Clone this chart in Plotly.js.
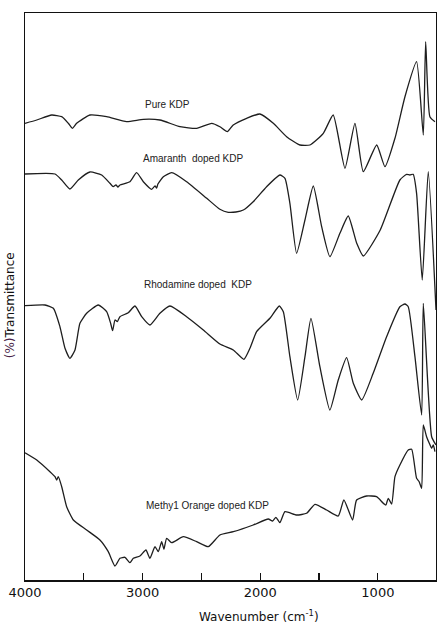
<!DOCTYPE html>
<html>
<head>
<meta charset="utf-8">
<script src="https://cdn.plot.ly/plotly-3.0.1.min.js"></script>
<style>html,body{margin:0;padding:0;background:#fff;}#chart{width:437px;height:627px;}</style>
</head>
<body>
<div id="chart"></div>
<script>
// Wavenumbers (cm^-1) and offset transmittance (arbitrary units, curves stacked)
const pureWn = [4000,3900,3773,3688,3632,3598,3561,3448,3306,3136,2994,2853,2683,2541,2413,2343,2280,2230,2116,2003,1889,1776,1663,1578,1464,1380,1280,1195,1124,1010,940,855,770,671,614,594,558,515];
const pureT  = [456.7,460,465,463.3,456.7,451.7,456.7,465,463.3,458.3,460.7,460,453.3,451.7,456.7,453.3,448.3,455,461.7,466,456.7,443.3,435,435,446.7,465,411.7,456.7,408.3,435,413.3,441.7,483.3,518.3,445,538.3,463.3,458.3];

const amaWn = [4000,3745,3688,3618,3547,3448,3348,3278,3250,3227,3210,3193,3108,3051,2994,2923,2895,2881,2870,2824,2753,2626,2455,2343,2272,2207,2144,2060,1946,1833,1790,1748,1691,1620,1549,1478,1408,1323,1252,1180,1124,980,813,756,728,700,671,623,572,506];
const amaT  = [406,406,400,391,400,408,405,396.7,393.3,395,393,395,398.3,407.3,398.3,390.7,394,392,396,403.3,407.3,398.3,381.7,370.7,367.7,368,370,378.3,393.3,405,401.7,376.7,326.7,360,394,353.3,323.3,346.7,364,336.7,324,350,400,405.7,405,405.7,386.7,300,408.3,270];

const rhoWn = [4000,3830,3759,3703,3660,3618,3575,3533,3476,3377,3306,3272,3255,3235,3215,3193,3122,3065,3008,2938,2853,2768,2626,2484,2343,2229,2139,2088,2031,1918,1838,1804,1748,1682,1620,1569,1493,1408,1337,1266,1209,1138,1040,926,813,770,742,685,628,614,543,506];
const rhoT  = [274.3,275,271.7,253.3,231.7,221.7,230,256.7,266.7,275,268.3,256.7,249.3,260,258.3,263.3,267.3,274,263.3,255,266.7,274,263.3,250,236,230,220.7,231.7,248.3,261.7,274,268.3,223.3,180,223.3,261.7,213.3,170,200,222.3,196.7,180,206.7,243.3,273.3,276,273.3,223.3,165,276.7,143.3,135];

const moWn = [4000,3900,3788,3745,3731,3717,3688,3646,3589,3476,3363,3292,3235,3193,3150,3108,3079,3023,2972,2938,2895,2867,2838,2819,2796,2753,2654,2541,2442,2343,2229,2060,1932,1895,1867,1833,1790,1691,1606,1535,1436,1337,1289,1215,1181,1096,1011,954,932,912,883,855,813,742,713,671,649,628,614,586,563,543,529,515];
const moT  = [127.3,120,108.3,103.3,100,103.3,93.3,73.3,60,50,40,28.3,14,21.7,22.7,17.3,21.7,24,30,21.7,33.3,28.3,38.3,30.7,41.7,37.3,43.3,38.3,33.3,45,48.3,55,61,59,62.7,57.3,68.3,65,66.7,75.7,70,64,80,60,80,84,83.3,76.7,75,81.7,76,103.3,115,130,130.7,101.7,98.3,91.7,155,143.3,136.7,131.7,135,128.3];

const labelText = ["Pure KDP","Amaranth  doped KDP","Rhodamine doped  KDP","Methy1 Orange doped KDP"];
const labelWn   = [2785,2568,2530,2449];
const labelT    = [475.7,421.7,296,74.3];

const tickVals = [4000,3500,3000,2500,2000,1500,1000];
const tickText = ["4000","","3000","","2000","","1000"];

const lineStyle = {color:'#1e1e1e', width:1.3, shape:'spline', smoothing:0.5};
const series = [[pureWn,pureT],[amaWn,amaT],[rhoWn,rhoT],[moWn,moT]];
const traces = series.map(s => ({x:s[0], y:s[1], mode:'lines', type:'scatter', line:lineStyle, hoverinfo:'skip'}));

const annotations = labelText.map((t,i) => ({
  x: labelWn[i], y: labelT[i], xref:'x', yref:'y', text:t, showarrow:false,
  font:{family:'Liberation Sans, Arial, sans-serif', size:10, color:'#222'}
}));
annotations.push({
  x: 2010, xref:'x', y: -0.064, yref:'paper', yanchor:'middle',
  text:'Wavenumber (cm<sup>-1</sup>)', showarrow:false,
  font:{family:'DejaVu Sans, sans-serif', size:12, color:'#111'}
});
annotations.push({
  x: -0.036, xref:'paper', y: 0.485, yref:'paper', xanchor:'center', yanchor:'middle',
  textangle:-90, text:'<span style="color:#4a1f48">(%)</span>Transmittance', showarrow:false,
  font:{family:'DejaVu Sans, sans-serif', size:12, color:'#111'}
});

const layout = {
  width:437, height:627,
  margin:{l:25, r:1, t:13, b:47, pad:0},
  paper_bgcolor:'#fff', plot_bgcolor:'#fff',
  showlegend:false,
  xaxis:{range:[4000,506], tickvals:tickVals, ticktext:tickText, ticks:'inside', ticklen:7, tickwidth:1.2, tickcolor:'#111',
         showline:true, linecolor:'#111', linewidth:1.5, mirror:true, showgrid:false, zeroline:false,
         tickfont:{family:'DejaVu Sans, sans-serif', size:13, color:'#111'}},
  yaxis:{range:[0,567], showticklabels:false, ticks:'', showline:true, linecolor:'#111', linewidth:1.5, mirror:true,
         showgrid:false, zeroline:false},
  annotations:annotations
};
Plotly.newPlot('chart', traces, layout, {staticPlot:true, displayModeBar:false});
</script>
</body>
</html>
